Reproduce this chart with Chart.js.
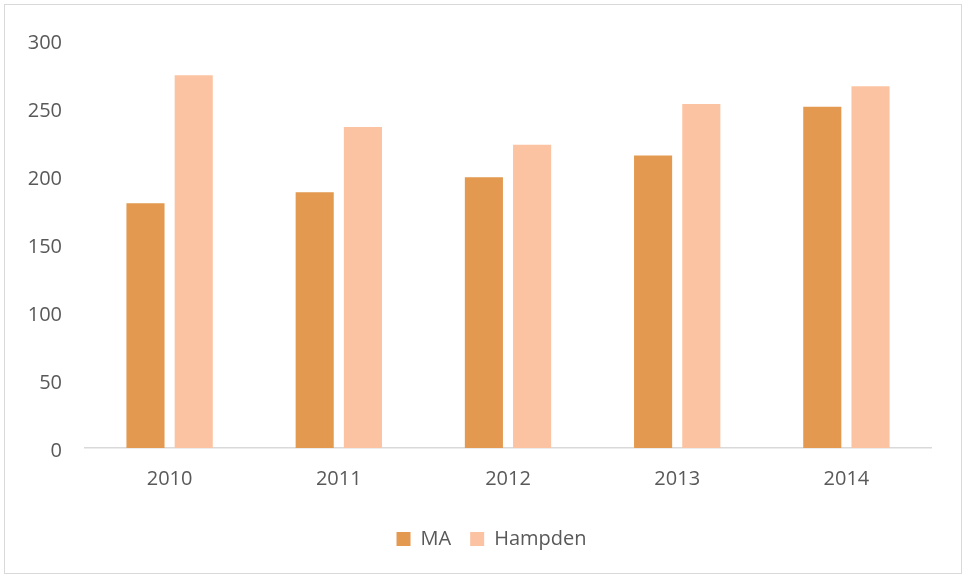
<!DOCTYPE html>
<html>
<head>
<meta charset="utf-8">
<script src="https://cdn.jsdelivr.net/npm/chart.js@4/dist/chart.umd.min.js"></script>
<style>
    body { margin: 0; background: #fff; }
    #frame {
        position: absolute; left: 4px; top: 4px;
        width: 958px; height: 570px;
        border: 1px solid #d9d9d9; box-sizing: border-box;
    }
</style>
</head>
<body>
<div id="frame"><canvas id="chart"></canvas></div>
<script>
// Chart data
var years = ["2010", "2011", "2012", "2013", "2014"];
var maValues = [180, 188, 199, 215, 251];
var hampdenValues = [274, 236, 223, 253, 266];
var yTicks = [0, 50, 100, 150, 200, 250, 300];

var ctx = document.getElementById('chart').getContext('2d');
var myChart = new Chart(ctx, {
    type: 'bar',
    data: {
        labels: years,
        datasets: [{
            label: 'MA',
            data: maValues,
            backgroundColor: '#e3994f',
            categoryPercentage: 0.57,
            barPercentage: 0.79
        }, {
            label: 'Hampden',
            data: hampdenValues,
            backgroundColor: '#fbc3a1',
            categoryPercentage: 0.57,
            barPercentage: 0.79
        }]
    },
    options: {
        responsive: true,
        maintainAspectRatio: false,
        animation: false,
        layout: { padding: { left: 23, right: 30, top: 21.5, bottom: 14 } },
        plugins: {
            tooltip: { enabled: false },
            legend: {
                position: 'bottom',
                labels: {
                    font: { family: 'Open Sans', size: 20 },
                    color: '#595959',
                    boxWidth: 14,
                    boxHeight: 14,
                    padding: 19
                }
            }
        },
        scales: {
            x: {
                grid: { display: false, drawTicks: false },
                border: { color: '#d9d9d9', width: 1.5 },
                ticks: {
                    font: { family: 'Open Sans', size: 20 },
                    color: '#595959',
                    padding: 19
                }
            },
            y: {
                min: 0,
                max: 300,
                afterBuildTicks: function (axis) {
                    axis.ticks = yTicks.map(function (v) { return { value: v }; });
                },
                afterFit: function (axis) {
                    axis.width = 57;
                },
                grid: { display: false, drawTicks: false },
                border: { display: false },
                ticks: {
                    font: { family: 'Open Sans', size: 20 },
                    color: '#595959',
                    padding: 23,
                    labelOffset: 3
                }
            }
        }
    },
    plugins: [{
        // nudge the legend a little to the right, like in the original
        id: 'legendShift',
        afterLayout: function (chart) {
            chart.legend.left += 12;
            chart.legend.right += 12;
        }
    }]
});
</script>
</body>
</html>
